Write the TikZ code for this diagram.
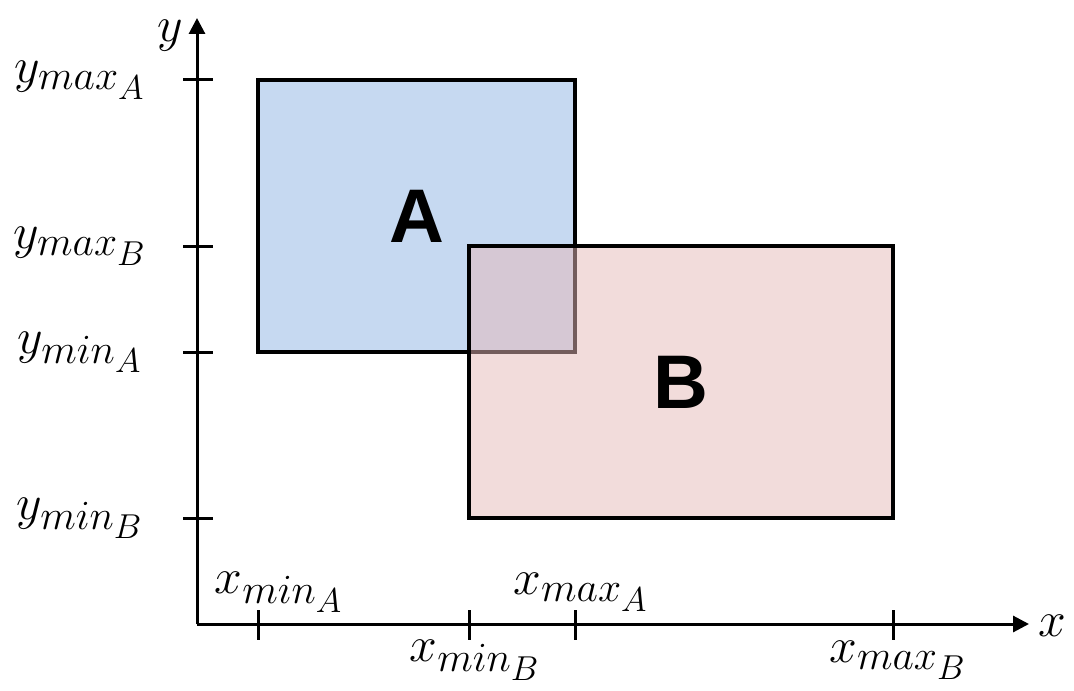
\documentclass[tikz,border=0pt]{standalone}
\usepackage{fontspec}
\usepackage{tikz}
\usetikzlibrary{arrows.meta}
\newfontfamily\boxfont{Liberation Sans}
\DeclareMathSizes{27}{27}{21}{17}
\definecolor{fillA}{HTML}{C6D9F1}
\definecolor{fillB}{HTML}{E6B9B8}

\begin{document}
\begin{tikzpicture}[
  x=0.5pt, y=-0.5pt,
  axis/.style={-{Triangle[length=8pt,width=8pt]}, line width=1.5pt},
  tick/.style={line width=1.5pt},
  region/.style={draw, line width=1.6pt, inner sep=0pt,
                 font=\fontsize{38}{40}\boxfont\bfseries},
  lbl/.style={font=\fontsize{27}{30}\selectfont, inner sep=0pt}
]
\useasboundingbox (0,0) rectangle (1074,690);

% axes
\coordinate (O) at (197,624);
\coordinate (xend) at (1029,624);
\coordinate (yend) at (197,18);
\draw[axis] (O) -- (xend);
\draw[axis] (O) -- (yend);
\node[lbl] (xlab) at (1052,626) {$x$};
\node[lbl] (ylab) at (170,36) {$y$};

% the two regions, B over A
\node[region, fill=fillA, minimum width=158.5pt, minimum height=136pt]
  (A) at (416.5,216) {A};
\node[region, fill=fillB, fill opacity=0.5, text opacity=1,
      minimum width=212pt, minimum height=136pt]
  (B) at (681,382) {B};

% ticks on y
\foreach \y/\name/\t in {80/ymaxA/{y_{max_A}}, 246/ymaxB/{y_{max_B}},
                         352/yminA/{y_{min_A}}, 518/yminB/{y_{min_B}}} {
  \draw[tick] (183,\y) -- (213,\y);
  \node[lbl] (\name) at (80,\y) {$\t$};
}

% ticks on x
\foreach \x in {258,469,575,893} {
  \draw[tick] (\x,610) -- (\x,640);
}
\node[lbl] (xminA) at (279,592) {$x_{min_A}$};
\node[lbl] (xmaxA) at (581,592) {$x_{max_A}$};
\node[lbl] (xminB) at (475,660) {$x_{min_B}$};
\node[lbl] (xmaxB) at (898,660) {$x_{max_B}$};
\end{tikzpicture}
\end{document}
